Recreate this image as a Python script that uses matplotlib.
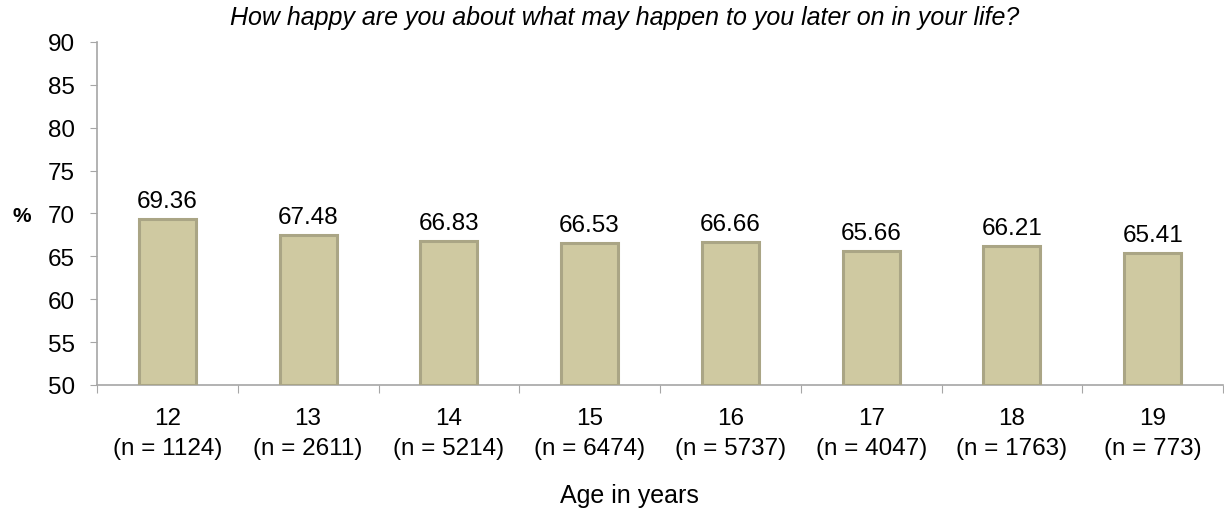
import numpy as np
import matplotlib.pyplot as plt
import matplotlib.patheffects as pe
from matplotlib.transforms import blended_transform_factory

plt.rcParams['font.family'] = ['Liberation Sans', 'DejaVu Sans']

ages = ['12', '13', '14', '15', '16', '17', '18', '19']
counts = [1124, 2611, 5214, 6474, 5737, 4047, 1763, 773]
values = [69.36, 67.48, 66.83, 66.53, 66.66, 65.66, 66.21, 65.41]
yticks = [50, 55, 60, 65, 70, 75, 80, 85, 90]

W, H = 1224, 510
fig = plt.figure(figsize=(W / 100, H / 100), dpi=100)
ax = fig.add_axes([97 / W, 1 - 386 / H, (1223 - 97) / W, (386 - 43) / H])

x = np.arange(len(ages))
bars = ax.bar(x, [v - 50 for v in values], bottom=50, width=0.405,
              color='#cfc9a1', edgecolor='#aaa585', linewidth=2.2, zorder=3)
for b in bars:
    b.set_path_effects([pe.SimplePatchShadow(offset=(1.5, -1.5), shadow_rgbFace='#c8c8c8', alpha=0.5),
                        pe.Normal()])

for xi, v in zip(x, values):
    ax.annotate(f'{v:.2f}', (xi, v), xytext=(0, 12), textcoords='offset pixels',
                ha='center', va='baseline', fontsize=17.5)

ax.set_xlim(-0.5, len(ages) - 0.5)
ax.set_ylim(50, 90)
ax.set_yticks(yticks)
ax.set_yticklabels([str(t) for t in yticks], fontsize=17.5)
ax.set_xticks(np.arange(len(ages) + 1) - 0.5)
ax.set_xticklabels([])
ax.tick_params(axis='x', length=6, color='#a6a6a6', direction='out')
ax.tick_params(axis='y', length=5, color='#a6a6a6', pad=11)

# two-line category labels under each bar
tr = blended_transform_factory(ax.transData, fig.transFigure)
for xi, a, n in zip(x, ages, counts):
    ax.text(xi, 1 - 425 / H, a, transform=tr, ha='center', va='baseline', fontsize=17.5)
    ax.text(xi, 1 - 455 / H, f'(n = {n})', transform=tr, ha='center', va='baseline', fontsize=17.5)

for s in ['top', 'right']:
    ax.spines[s].set_visible(False)
for s in ['left', 'bottom']:
    ax.spines[s].set_color('#a6a6a6')
    ax.spines[s].set_linewidth(1.2)

fig.text(625 / W, 1 - 18 / H, 'How happy are you about what may happen to you later on in your life?',
         fontsize=18, style='italic', ha='center', va='center')
fig.text(629 / W, 1 - 503 / H, 'Age in years', fontsize=18, ha='center', va='baseline')
fig.text(22 / W, 1 - 216 / H, '%', fontsize=15, fontweight='bold', ha='center', va='center')

fig.savefig('out.png', dpi=100)
